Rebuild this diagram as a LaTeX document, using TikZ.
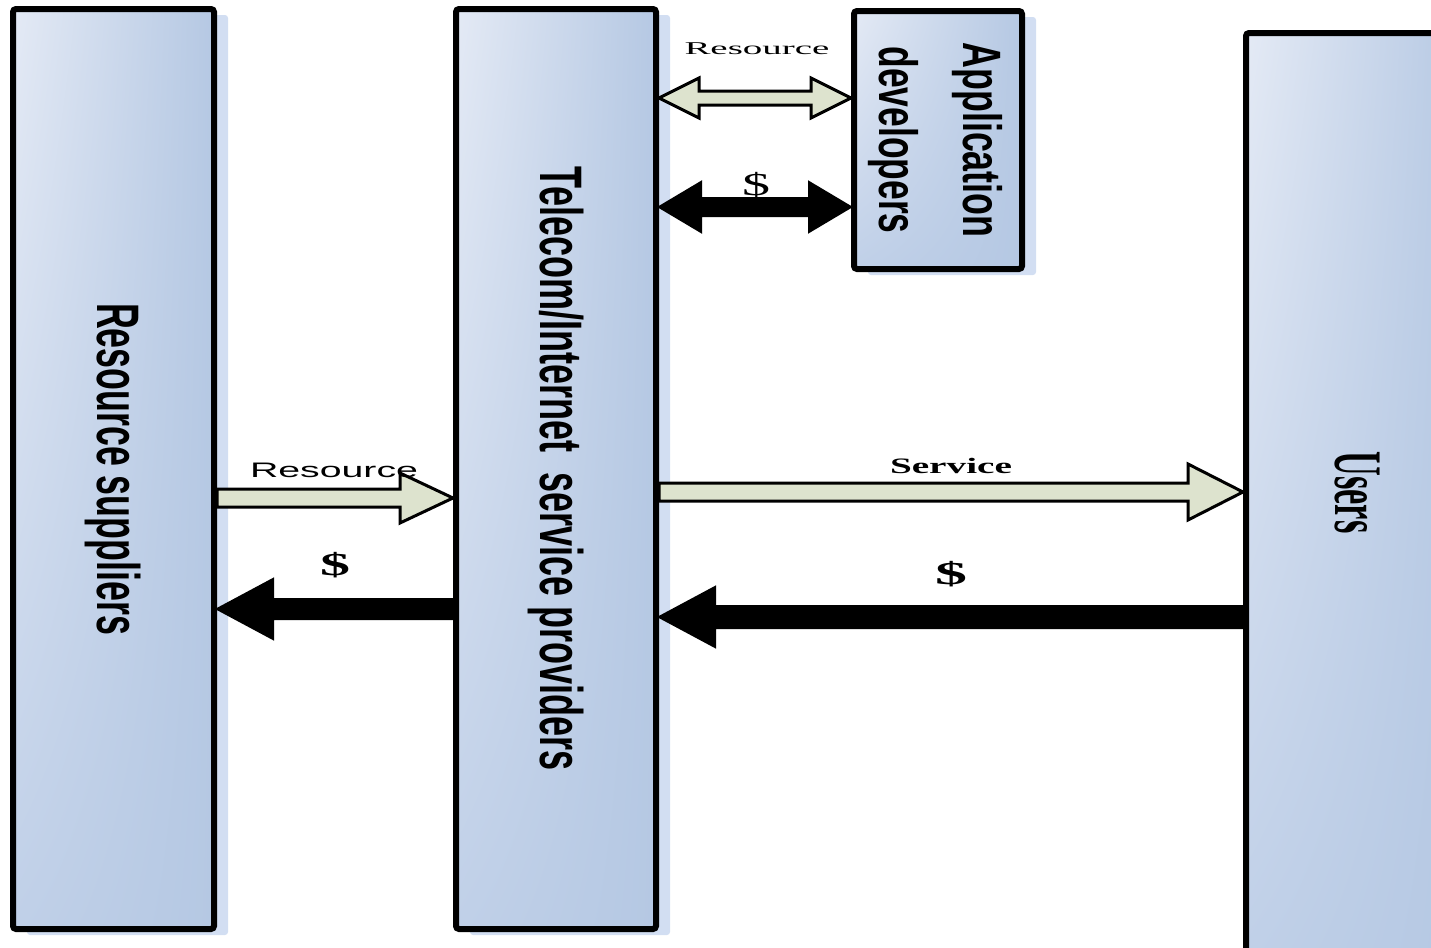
\documentclass[tikz,border=0pt]{standalone}
\usepackage{fontspec}
\setmainfont{Liberation Serif}
\setsansfont{Liberation Sans}
\usepackage{graphicx}
\usetikzlibrary{calc,shadows,shadings}
\definecolor{boxleft}{RGB}{228,234,245}
\definecolor{boxright}{RGB}{181,200,227}
\definecolor{boxlow}{RGB}{192,208,232}
\definecolor{shadowblue}{RGB}{210,222,242}
\definecolor{arrowfill}{RGB}{221,227,206}
\tikzset{%Global config
	color = black ,
	%Styles
	Box/.style={
		draw=black,
		line width=3pt,
		rounded corners=1.5pt,
		upper left=boxleft,
		upper right=boxright,
		lower left=boxlow,
		lower right=boxright,
		drop shadow={shadow xshift=7pt,shadow yshift=-3pt,fill=shadowblue,opacity=1},
		inner sep=0pt,
		font=\sffamily\bfseries\fontsize{30}{34}\selectfont,
	},
	fat/.style args={#1/#2/#3}{
		to path={let \p1=(\tikztostart), \p2=(\tikztotarget), \n1={sign(\x2-\x1)}, \n2={\x2-\n1*#3} in
			(\x1,{\y1+#1}) -- (\n2,{\y1+#1}) -- (\n2,{\y1+#2}) -- (\x2,\y1)
			-- (\n2,{\y1-#2}) -- (\n2,{\y1-#1}) -- (\x1,{\y1-#1}) -- cycle}
	},
	dfat/.style args={#1/#2/#3}{
		to path={let \p1=(\tikztostart), \p2=(\tikztotarget), \n1={sign(\x2-\x1)},
			\n2={\x1+\n1*#3}, \n3={\x2-\n1*#3} in
			(\x1,\y1) -- (\n2,{\y1+#2}) -- (\n2,{\y1+#1}) -- (\n3,{\y1+#1})
			-- (\n3,{\y1+#2}) -- (\x2,\y1) -- (\n3,{\y1-#2}) -- (\n3,{\y1-#1})
			-- (\n2,{\y1-#1}) -- (\n2,{\y1-#2}) -- cycle}
	},
	Goods/.style={draw=black, line width=1.5pt, fill=arrowfill, line join=miter},
	Money/.style={draw=black, line width=1pt, fill=black, line join=miter},
	Lbl/.style={inner sep=0pt},
}

\begin{document}
\begin{tikzpicture}[x=0.5pt,y=-0.5pt]
		\useasboundingbox (0,0) rectangle (1431,948);
		\clip (0,0) rectangle (1431,948);
		% Boxes
		\node[Box, minimum width=100.5pt, minimum height=460pt] (rs) at (113.5,469)
			{\rotatebox{-90}{\resizebox{166pt}{\height}{Resource suppliers}}};
		\node[Box, minimum width=100pt, minimum height=460pt] (tsp) at (556,469)
			{\rotatebox{-90}{\resizebox{302pt}{\height}{Telecom/Internet\ \ service providers}}};
		\node[Box, minimum width=80pt, minimum height=129pt,
			font=\sffamily\bfseries\fontsize{27}{42}\selectfont] (ad) at (938,140)
			{\rotatebox{-90}{\begin{tabular}{@{}c@{}}\resizebox{97.5pt}{\height}{Application}\\\resizebox{93.5pt}{\height}{developers}\end{tabular}}};
		\node[Box, minimum width=111pt, minimum height=459.5pt,
			font=\rmfamily\bfseries\fontsize{34}{36}\selectfont] (users) at (1357,492.5)
			{\rotatebox{-90}{\resizebox{41pt}{\height}{Users}}};
		
		% Arrow ends on the box borders
		\path (rs.east |- 0,498) coordinate (resA) (tsp.west |- 0,498) coordinate (resB);
		\path (tsp.west |- 0,609) coordinate (payA) (rs.east |- 0,609) coordinate (payB);
		\path (tsp.east |- 0,98) coordinate (devA) (ad.west |- 0,98) coordinate (devB);
		\path (tsp.east |- 0,207) coordinate (devpayA) (ad.west |- 0,207) coordinate (devpayB);
		\path (tsp.east |- 0,492) coordinate (srvA) (users.west |- 0,492) coordinate (srvB);
		\path (users.west |- 0,617) coordinate (userpayA) (tsp.east |- 0,617) coordinate (userpayB);
		
		% Arrows
		\draw[Goods, fat=4.5pt/12.5pt/26.5pt] (resA) to (resB);
		\draw[Money, fat=5pt/15pt/28pt] (payA) to (payB);
		\draw[Goods, dfat=3.5pt/10pt/20pt] (devA) to (devB);
		\draw[Money, dfat=4.5pt/12.5pt/21pt] (devpayA) to (devpayB);
		\draw[Goods, fat=4.5pt/14pt/27.5pt] (srvA) to (srvB);
		\draw[Money, fat=5.5pt/15pt/28pt] (userpayA) to (userpayB);
		
		% Labels
		\node[Lbl, font=\fontsize{9}{10}\selectfont] (resAD) at (757,49) {\resizebox{72.5pt}{\height}{Resource}};
		\node[Lbl, font=\fontsize{16}{18}\selectfont] (payAD) at (756,185) {\resizebox{14pt}{\height}{\$}};
		\node[Lbl, font=\sffamily\fontsize{10.5}{12}\selectfont] (resRS) at (334,470.5) {\resizebox{84pt}{\height}{Resource}};
		\node[Lbl, font=\bfseries\fontsize{16}{18}\selectfont] (payRS) at (335,565) {\resizebox{15pt}{\height}{\$}};
		\node[Lbl, font=\bfseries\fontsize{11}{12}\selectfont] (srvU) at (951,465.5) {\resizebox{61pt}{\height}{Service}};
		\node[Lbl, font=\bfseries\fontsize{16}{18}\selectfont] (payU) at (951,574) {\resizebox{16pt}{\height}{\$}};
\end{tikzpicture}
\end{document}
